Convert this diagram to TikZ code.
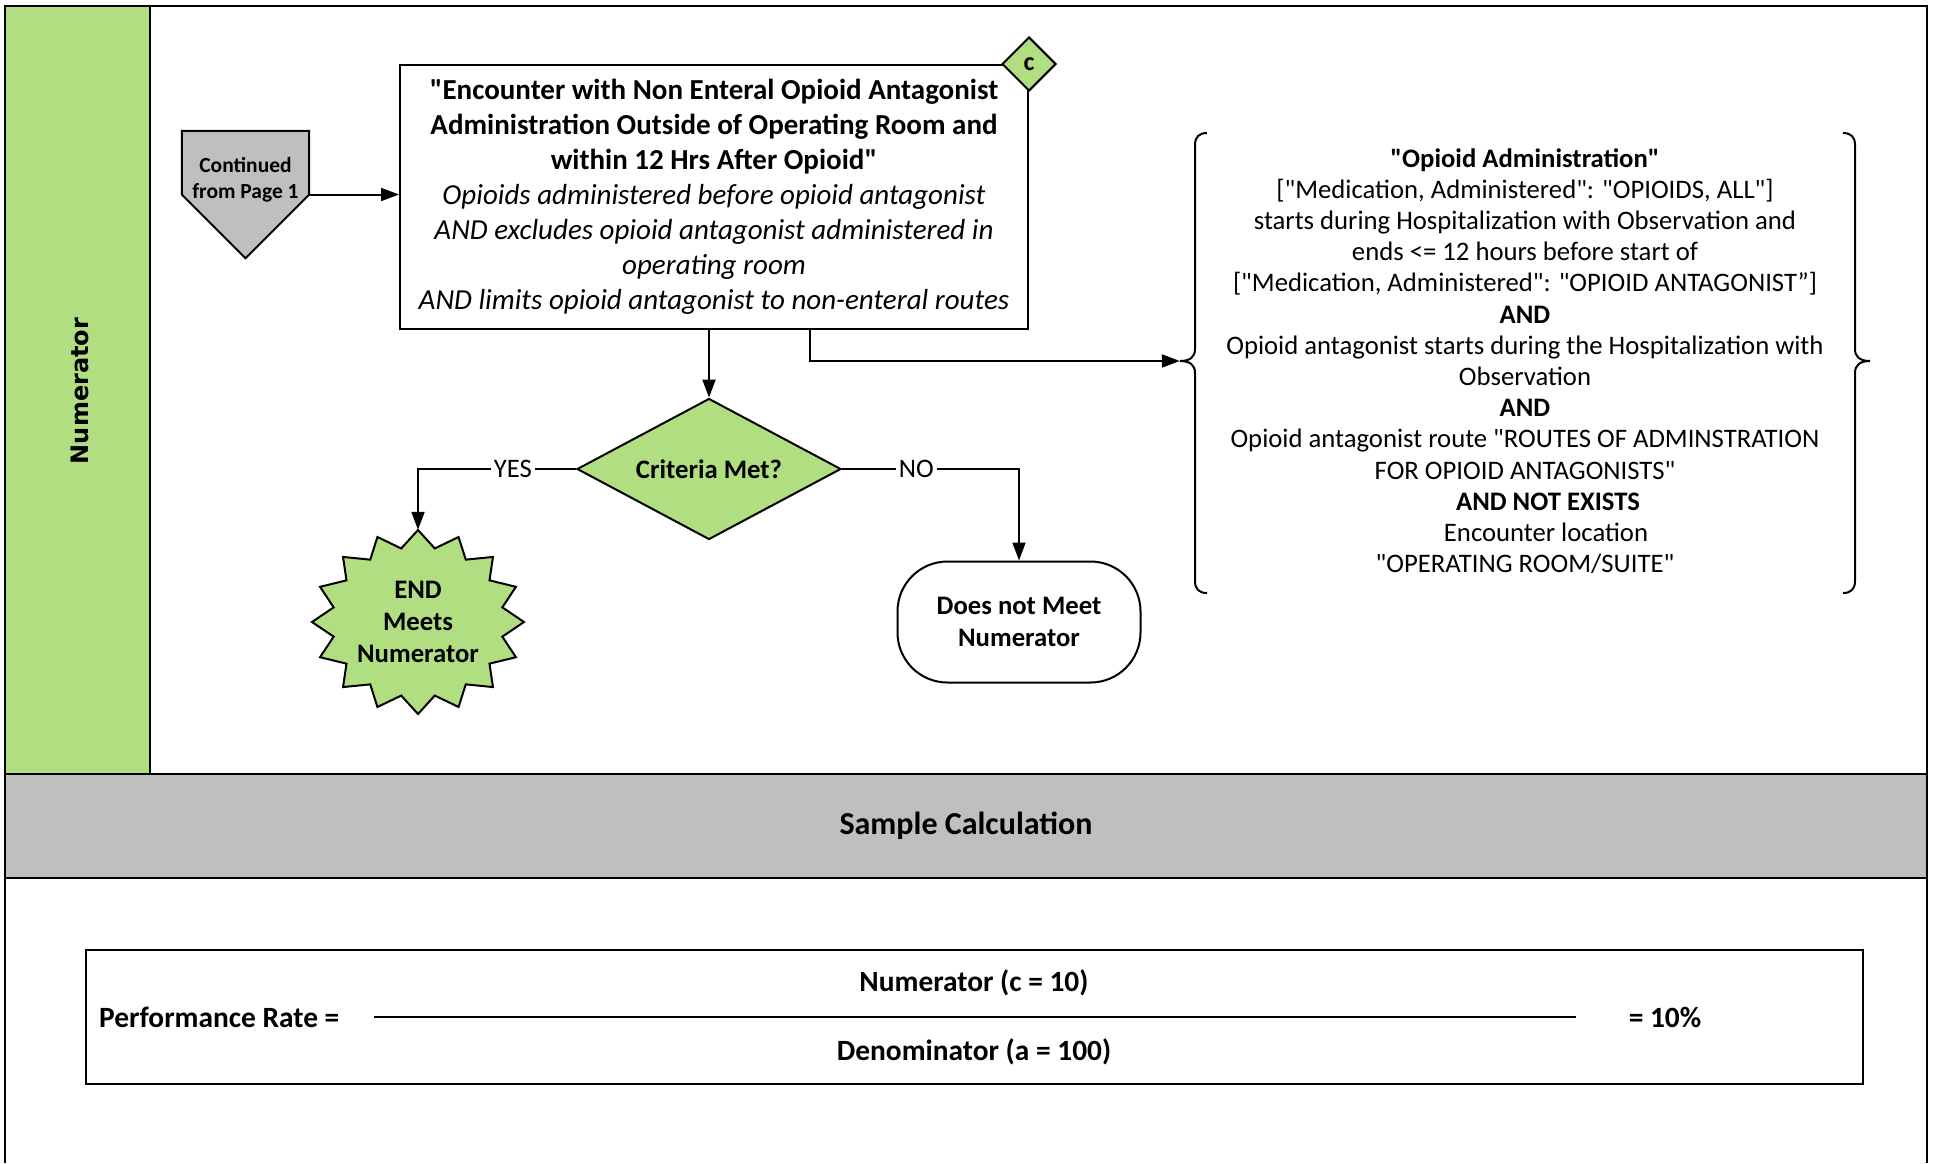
\documentclass[tikz,border=0pt]{standalone}
\usepackage{fontspec}
\setmainfont{Carlito}[Ligatures=TeXOff]
\newfontfamily\lanefont{DejaVu Sans}
\usetikzlibrary{shapes.geometric,arrows.meta,calc}
\definecolor{lanegreen}{HTML}{B2DE82}
\definecolor{bandgray}{HTML}{BFBFBF}
\begin{document}
\begin{tikzpicture}[x=1pt,y=-1pt,
  frameline/.style={line width=2.5pt, draw=black},
  box/.style={draw=black, line width=2pt, fill=white, align=center, inner sep=0pt},
  arr/.style={line width=2pt, -{Triangle[length=18pt,width=13pt]}},
  lbl/.style={fill=white, inner sep=3pt, font=\fontsize{26.7}{32}\selectfont},
  midtext/.style={font=\fontsize{26.7}{31.2}\selectfont, align=center, inner sep=0pt},
  boldtext/.style={font=\bfseries\fontsize{26.7}{32}\selectfont, align=center, inner sep=0pt},
  calctext/.style={font=\bfseries\fontsize{29.4}{34}\selectfont, inner sep=0pt}
]
\useasboundingbox (0,0) rectangle (1933,1163);
% lane
\fill[lanegreen] (5,6) rectangle (150,774);
\draw[frameline] (150,6) -- (150,774);
\node[rotate=90, font=\lanefont\bfseries\fontsize{24}{28}\selectfont] (lanelbl) at (80,391) {Numerator};
% gray band
\node[draw=black, line width=2.5pt, fill=bandgray, minimum width=1922, minimum height=104, inner sep=0pt, font=\bfseries\fontsize{32}{36}\selectfont] (calc) at (966,826) {Sample Calculation};
% outer frame
\draw[frameline] (5,1163) -- (5,6) -- (1927,6) -- (1927,1163);

% continued from page 1
\node[minimum width=127, minimum height=127, inner sep=0pt] (cont) at (245.5,194.5) {};
\draw[line width=2pt, fill=bandgray] (cont.north west) -- (cont.north east) -- (cont.east) -- (cont.south) -- (cont.west) -- cycle;
\node[font=\bfseries\fontsize{21.5}{26}\selectfont, align=center, inner sep=0pt] (conttxt) at (245.5,180) {Continued\\from Page 1};

% main box
\node[box, minimum width=628, minimum height=264, font=\fontsize{29}{35}\selectfont] (main) at (714,197)
 {\textbf{"Encounter with Non Enteral Opioid Antagonist}\\
  \textbf{Administration Outside of Operating Room and}\\
  \textbf{within 12 Hrs After Opioid"}\\
  \textit{Opioids administered before opioid antagonist}\\
  \textit{AND excludes opioid antagonist administered in}\\
  \textit{operating room}\\
  \textit{AND limits opioid antagonist to non-enteral routes}};
\node[diamond, draw=black, line width=2pt, fill=lanegreen, minimum width=54, minimum height=54, inner sep=0pt, font=\bfseries\fontsize{26}{28}\selectfont] (cmark) at (main.north east) {c};

\draw[arr] (cont.east) -- (cont.east -| main.west);

% condition text with braces
\node[midtext, minimum width=690, minimum height=460] (cond) at (1525,361)
 {\textbf{"Opioid Administration"}\\
  {[}"Medication, Administered": "OPIOIDS, ALL"]\\
  starts during Hospitalization with Observation and\\
  ends <= 12 hours before start of\\
  {[}"Medication, Administered": "OPIOID ANTAGONIST”]\\
  \textbf{AND}\\
  Opioid antagonist starts during the Hospitalization with\\
  Observation\\
  \textbf{AND}\\
  Opioid antagonist route "ROUTES OF ADMINSTRATION\\
  FOR OPIOID ANTAGONISTS"\\
  \hspace*{46pt}\textbf{AND NOT EXISTS}\\
  \hspace*{42pt}Encounter location\\
  "OPERATING ROOM/SUITE"};
\draw[line width=2pt] (1207,133) .. controls (1199,133) and (1195,137) .. (1195,145) -- (1195,349)
  .. controls (1195,357) and (1190,361) .. (1180,361)
  .. controls (1190,361) and (1195,365) .. (1195,373) -- (1195,581)
  .. controls (1195,589) and (1199,593) .. (1207,593);
\draw[line width=2pt] (1843,133) .. controls (1851,133) and (1855,137) .. (1855,145) -- (1855,349)
  .. controls (1855,357) and (1860,361) .. (1870,361)
  .. controls (1860,361) and (1855,365) .. (1855,373) -- (1855,581)
  .. controls (1855,589) and (1851,593) .. (1843,593);
\draw[arr] ([xshift=96pt]main.south) |- (cond.west);

% decision
\node[diamond, draw=black, line width=2pt, fill=lanegreen, minimum width=264, minimum height=141, aspect=1.87, inner sep=0pt, font=\bfseries\fontsize{26.7}{32}\selectfont] (crit) at (709,469) {Criteria Met?};
\draw[arr] (crit.north |- main.south) -- (crit.north);

% star (END Meets Numerator)
\begin{scope}[shift={(418,622)}]
\draw[line width=2pt, fill=lanegreen, line join=miter] (90:106pt and 92pt)
  \foreach \k [evaluate=\k as \rx using {ifthenelse(mod(\k,2)==0,106,86)},
               evaluate=\k as \ry using {ifthenelse(mod(\k,2)==0,92,75)}] in {1,...,31}
  { -- ({90+\k*11.25}:\rx pt and \ry pt) } -- cycle;
\end{scope}
\node[boldtext, minimum width=212, minimum height=184] (star) at (418,622) {END\\Meets\\Numerator};

% does not meet
\node[box, rounded corners=50pt, minimum width=243, minimum height=121, font=\bfseries\fontsize{26.7}{32}\selectfont] (dnm) at (1019,622) {Does not Meet\\Numerator};

\draw[arr] (crit.west) -| node[lbl, pos=0.2] {YES} (star.north);
\draw[arr] (crit.east) -| node[lbl, pos=0.21] {NO} (dnm.north);

% performance rate
\node[box, minimum width=1777, minimum height=134] (perf) at (974.5,1017) {};
\node[calctext, anchor=west] (prlabel) at (99,1017) {Performance Rate =};
\node[calctext] (numtxt) at (974,983) {Numerator (c = 10)};
\node[calctext] (dentxt) at (974,1052) {Denominator (a = 100)};
\coordinate (barL) at (374,1017);
\coordinate (barR) at (1576,1017);
\draw[line width=2.5pt] (barL) -- (barR);
\node[calctext] (rate) at (1665,1017) {= 10\%};
\end{tikzpicture}
\end{document}
